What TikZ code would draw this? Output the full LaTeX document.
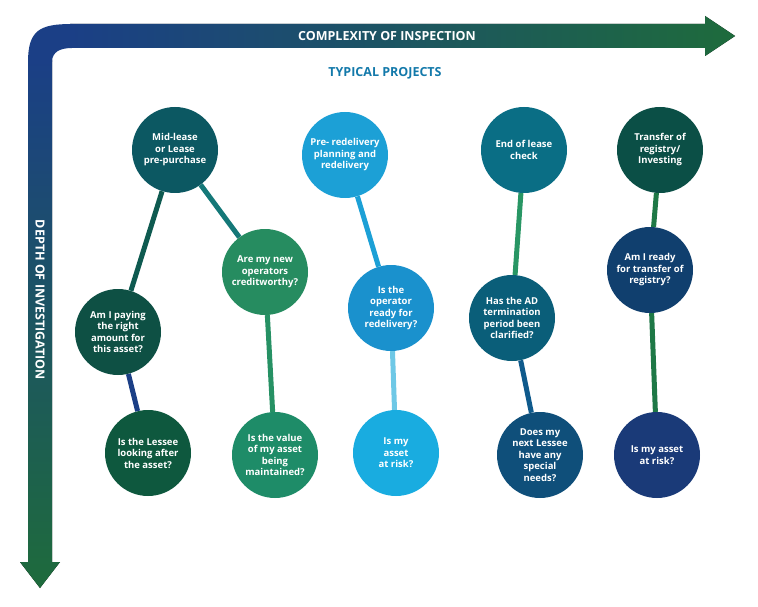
\documentclass[tikz,border=0pt]{standalone}
\usepackage{fontspec}
\setmainfont{Open Sans}
\usepackage{tikz}
\usetikzlibrary{positioning}
\definecolor{navy}{HTML}{1B3F86}
\definecolor{forest}{HTML}{1E6B3C}
\begin{document}
\begin{tikzpicture}[x=1pt,y=-1pt,
    every node/.style={font=\bfseries\fontsize{9.5}{11.5}\selectfont, text=white, align=center},
    q/.style={circle, minimum size=86pt, inner sep=1pt},
    link/.style={line width=5pt}]
    \useasboundingbox (0,0) rectangle (758,607);

    % Axes
    \fill[left color=navy, right color=forest] (70,24) -- (705,24) -- (705,16) -- (735,36) -- (705,56) -- (705,48) -- (70,48) -- cycle;
    \fill[top color=navy, bottom color=forest] (28,60) -- (52,60) -- (52,562) -- (60,562) -- (40,588) -- (20,562) -- (28,562) -- cycle;
    \fill[navy] (28,62) .. controls (28,30) and (40,24) .. (72,24) -- (72,48) .. controls (60,48) and (52,52) .. (52,62) -- cycle;
    \node[font=\bfseries\fontsize{12.5}{14}\selectfont] (cx) at (387,36) {COMPLEXITY OF INSPECTION};
    \node[font=\bfseries\fontsize{12.5}{14}\selectfont, rotate=-90] (dp) at (40,300) {DEPTH OF INVESTIGATION};
    \node[font=\bfseries\fontsize{12.5}{14}\selectfont, text=navy!70!cyan] (tp) at (385,73) {TYPICAL PROJECTS};

    % Nodes
    \node[q, fill={rgb,255:red,12;green,88;blue,98}] (mid) at (175,150) {Mid-lease\\or Lease\\pre-purchase};
    \node[q, fill={rgb,255:red,38;green,140;blue,96}] (cred) at (265,272) {Are my new\\operators\\creditworthy?};
    \node[q, fill={rgb,255:red,14;green,80;blue,68}] (pay) at (118,332) {Am I paying\\the right\\amount for\\this asset?};
    \node[q, fill={rgb,255:red,14;green,88;blue,62}] (less) at (148,453) {Is the Lessee\\looking after\\the asset?};
    \node[q, fill={rgb,255:red,30;green,140;blue,104}] (val) at (275,455) {Is the value\\of my asset\\being\\maintained?};
    \node[q, fill={rgb,255:red,28;green,160;blue,214}] (pre) at (345,155) {Pre- redelivery\\planning and\\redelivery};
    \node[q, fill={rgb,255:red,26;green,145;blue,205}] (ready) at (391,308) {Is the\\operator\\ready for\\redelivery?};
    \node[q, fill={rgb,255:red,25;green,172;blue,224}] (risk) at (396,453) {Is my\\asset\\at risk?};
    \node[q, fill={rgb,255:red,10;green,110;blue,133}] (eol) at (524,150) {End of lease\\check};
    \node[q, fill={rgb,255:red,10;green,94;blue,121}] (ad) at (512,318) {Has the AD\\termination\\period been\\clarified?};
    \node[q, fill={rgb,255:red,15;green,79;blue,122}] (next) at (540,455) {Does my\\next Lessee\\have any\\special\\needs?};
    \node[q, fill={rgb,255:red,11;green,79;blue,70}] (trans) at (660,150) {Transfer of\\registry/\\Investing};
    \node[q, fill={rgb,255:red,16;green,63;blue,110}] (reg) at (650,270) {Am I ready\\for transfer of\\registry?};
    \node[q, fill={rgb,255:red,26;green,58;blue,120}] (risk2) at (657,455) {Is my asset\\at risk?};

    % Edges
    \draw[link, color={rgb,255:red,14;green,90;blue,80}] (mid) -- (pay);
    \draw[link, color={rgb,255:red,20;green,120;blue,120}] (mid) -- (cred);
    \draw[link, color=navy] (pay) -- (less);
    \draw[link, color={rgb,255:red,38;green,145;blue,100}] (cred) -- (val);
    \draw[link, color={rgb,255:red,28;green,160;blue,214}] (pre) -- (ready);
    \draw[link, color={rgb,255:red,110;green,200;blue,230}] (ready) -- (risk);
    \draw[link, color={rgb,255:red,40;green,150;blue,100}] (eol) -- (ad);
    \draw[link, color={rgb,255:red,15;green,90;blue,140}] (ad) -- (next);
    \draw[link, color={rgb,255:red,30;green,120;blue,70}] (trans) -- (reg);
    \draw[link, color={rgb,255:red,30;green,120;blue,70}] (reg) -- (risk2);
\end{tikzpicture}
\end{document}
